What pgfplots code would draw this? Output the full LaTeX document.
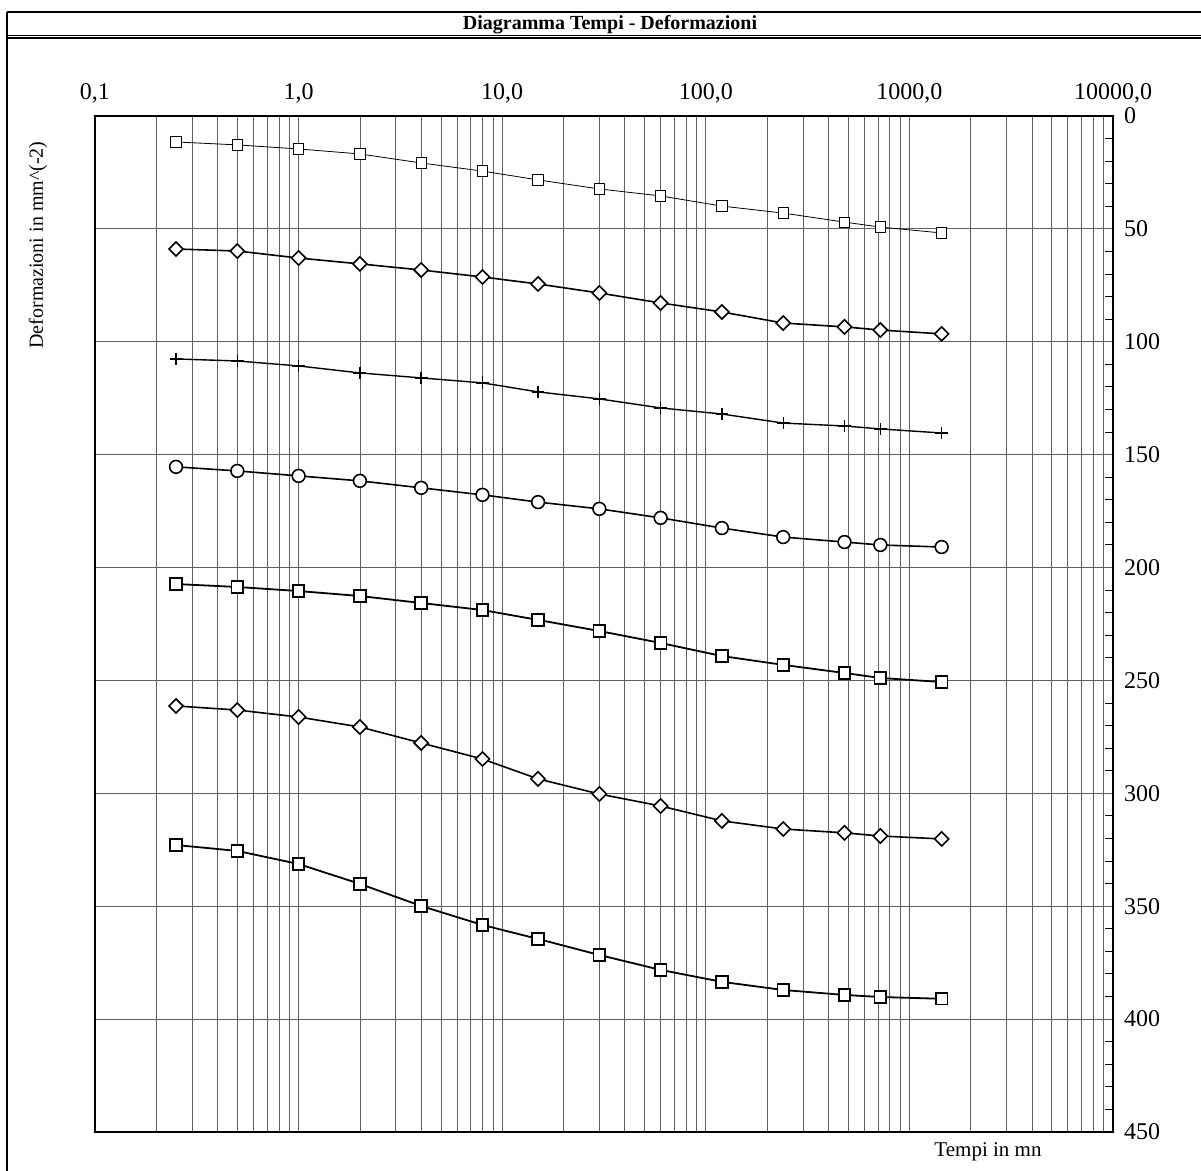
\documentclass[border=0pt]{standalone}
\usepackage{pgfplots}
\pgfplotsset{compat=1.18}
\usepackage{fontspec}
\setmainfont{Liberation Serif}

\begin{document}
\begin{tikzpicture}[x=0.5pt,y=0.5pt]
\useasboundingbox (0,0) rectangle (1201,1171);
% cornice e barra del titolo
\draw[line width=1.2pt] (7,1159) -- (1201,1159);
\draw[line width=0.5pt] (7,1135) -- (1201,1135);
\draw[line width=0.8pt] (7,1133) -- (1201,1133);
\draw[line width=0.6pt] (7,1159) -- (7,0);
\node[font=\bfseries\fontsize{10}{12}\selectfont] at (610,1146) {Diagramma Tempi - Deformazioni};
\node[rotate=90,font=\fontsize{10}{12}\selectfont] at (38,926) {Deformazioni in mm\textasciicircum(-2)};
\node[font=\fontsize{10.5}{12}\selectfont] at (988,19) {Tempi in mn};

\begin{axis}[
    at={(47.5pt,19.5pt)}, anchor=south west,
    width=509pt, height=508pt, scale only axis,
    xmode=log, xmin=0.1, xmax=10000,
    ymin=0, ymax=450, y dir=reverse,
    xtick={0.1,1,10,100,1000,10000},
    xticklabels={{0,1},{1,0},{10,0},{100,0},{1000,0},{10000,0}},
    xticklabel pos=top, ytick={0,50,...,450},
    yticklabel pos=right, ytick pos=right, tick align=inside,
    minor y tick num=4,
    tick label style={font=\fontsize{12}{14}\selectfont},
    /pgf/number format/assume math mode=true,
    xticklabel style={yshift=3pt},
    yticklabel style={xshift=2pt},
    grid=both,
    xminorgrids=true, yminorgrids=false,
    major grid style={gray!75!black, line width=0.4pt},
    minor grid style={gray!75!black, line width=0.35pt},
    axis line style={line width=1.2pt},
    tick style={black, line width=0.5pt},
    major tick length=0pt, minor tick length=4pt,
    xtick style={draw=none},
    every axis plot/.append style={black, mark options={fill=white, solid}},
    rombo/.style={mark=square*, mark size=2.5pt, mark options={rotate=45, fill=white, solid}},
]
\addplot[line width=0.4pt, mark=square*, mark size=2.6pt] coordinates {
 (0.25,11.5)(0.5,12.8)(1,14.6)(2,16.8)(4,20.8)(8,24.4)(15,28.3)(30,32.3)
 (60,35.4)(120,39.9)(240,43)(480,47)(720,49.2)(1440,51.8)};
\addplot[line width=0.8pt, rombo] coordinates {
 (0.25,58.9)(0.5,59.8)(1,62.9)(2,65.5)(4,68.2)(8,71.3)(15,74.4)(30,78.4)
 (60,82.8)(120,86.8)(240,91.7)(480,93.4)(720,94.8)(1440,96.5)};
\addplot[line width=0.7pt, mark=+, mark size=3.2pt] coordinates {
 (0.25,107.6)(0.5,108.5)(1,110.7)(2,113.8)(4,116)(8,118.2)(15,122.2)(30,125.3)
 (60,129.3)(120,132)(240,136)(480,137.3)(720,138.6)(1440,140.4)};
\addplot[line width=0.8pt, mark=*, mark size=3.2pt] coordinates {
 (0.25,155.4)(0.5,157.2)(1,159.4)(2,161.6)(4,164.7)(8,167.8)(15,171)(30,174)
 (60,178)(120,182.5)(240,186.5)(480,188.7)(720,190)(1440,190.9)};
\addplot[line width=0.9pt, mark=square*, mark size=2.9pt] coordinates {
 (0.25,207.3)(0.5,208.6)(1,210.4)(2,212.6)(4,215.7)(8,218.8)(15,223.2)(30,228.1)
 (60,233.4)(120,239.2)(240,243.1)(480,246.7)(720,248.9)(1440,250.7)};
\addplot[line width=0.8pt, rombo] coordinates {
 (0.25,261.3)(0.5,263.1)(1,266.2)(2,270.6)(4,277.7)(8,284.8)(15,293.6)(30,300.3)
 (60,305.6)(120,312.2)(240,315.8)(480,317.5)(720,318.9)(1440,320.2)};
\addplot[line width=0.9pt, mark=square*, mark size=2.9pt] coordinates {
 (0.25,322.9)(0.5,325.5)(1,331.3)(2,340.1)(4,349.9)(8,358.3)(15,364.5)(30,371.6)
 (60,378.2)(120,383.5)(240,387.1)(480,389.3)(720,390.2)(1440,391)};
\end{axis}
\end{tikzpicture}
\end{document}
